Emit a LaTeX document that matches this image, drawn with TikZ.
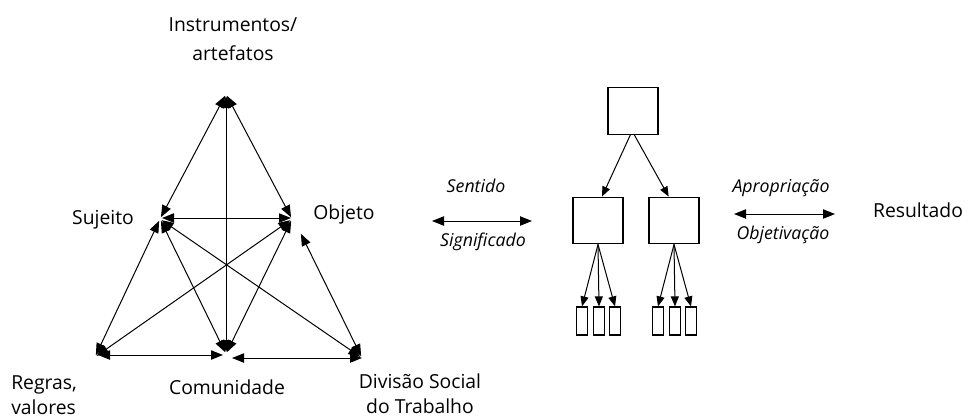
\documentclass[tikz,border=0pt]{standalone}
\usepackage{fontspec}
\setmainfont{Open Sans}
\usetikzlibrary{arrows.meta}
\begin{document}
\begin{tikzpicture}[x=0.75pt,y=-0.75pt,
  lbl/.style={font=\fontsize{14.5}{19}\selectfont, inner sep=0pt, align=center},
  ilbl/.style={font=\fontsize{13.3}{17}\selectfont\itshape, inner sep=0pt},
  link/.style={line width=0.75pt, shorten <=1.5pt, shorten >=1.5pt, {Triangle[length=9pt,width=7pt]}-{Triangle[length=9pt,width=7pt]}},
  onearr/.style={line width=0.75pt, -{Triangle[length=7.5pt,width=6pt]}},
  box/.style={draw, line width=0.9pt, inner sep=0pt, minimum width=37.5pt, minimum height=35pt},
  sbox/.style={draw, line width=0.9pt, inner sep=0pt, minimum width=8pt, minimum height=21pt}]
\useasboundingbox (0,0) rectangle (970,418);
% triangle vertices
\coordinate (I) at (226,94);
\coordinate (S) at (160,219);
\coordinate (O) at (292,219);
\coordinate (O2) at (300,232);
\coordinate (R) at (95,357);
\coordinate (C) at (226,354);
\coordinate (D) at (362,358);
\coordinate (Sa) at (160,218);
\coordinate (Oa) at (293,218);
\coordinate (Ra) at (96,355);
\coordinate (Ca) at (225,355);
\coordinate (Cb) at (230,358);
\coordinate (Db) at (364,358);
% labels
\node[lbl] (instr) at (233,39) {Instrumentos/\\[3pt]artefatos};
\node[lbl] (suj) at (103,220) {Sujeito};
\node[lbl] (obj) at (344,214) {Objeto};
\node[lbl, align=left, anchor=west] (reg) at (11,395) {Regras,\\valores};
\node[lbl] (com) at (227,387) {Comunidade};
\node[lbl] (div) at (420,394) {Divisão Social\\do Trabalho};
% links
\draw[link] (I) -- (S);
\draw[link] (I) -- (O);
\draw[link] (I) -- (C);
\draw[link] (Sa) -- (Oa);
\draw[link] (S) -- (R);
\draw[link] (S) -- (C);
\draw[link] (S) -- (D);
\draw[link] (O) -- (R);
\draw[link] (O) -- (C);
\draw[link] (O2) -- (D);
\draw[link] (Ra) -- (Ca);
\draw[link] (Cb) -- (Db);
% middle
\node[ilbl] (sent) at (476,186) {Sentido};
\node[ilbl] (sig) at (483,242) {Significado};
\coordinate (m1) at (432,221);
\coordinate (m2) at (532,221);
\draw[link, shorten <=0pt, shorten >=0pt] (m1) -- (m2);
% hierarchy
\node[box] (top) at (633,111) {};
\node[box] (ml) at (598,220.5) {};
\node[box] (mr) at (674,220.5) {};
\node[sbox] (a1) at (582,321) {};
\node[sbox] (a2) at (599,321) {};
\node[sbox] (a3) at (615,321) {};
\node[sbox] (b1) at (658,321) {};
\node[sbox] (b2) at (675,321) {};
\node[sbox] (b3) at (691,321) {};
\draw[onearr] ([xshift=-2pt]top.south) -- ([xshift=3pt]ml.north);
\draw[onearr] ([xshift=1pt]top.south) -- ([xshift=-4pt]mr.north);
\draw[onearr] (ml.south) -- (a1.north);
\draw[onearr] (ml.south) -- (a2.north);
\draw[onearr] (ml.south) -- (a3.north);
\draw[onearr] (mr.south) -- (b1.north);
\draw[onearr] (mr.south) -- (b2.north);
\draw[onearr] (mr.south) -- (b3.north);
% right
\node[ilbl] (apr) at (781,188) {Apropriação};
\node[ilbl] (objv) at (783,235) {Objetivação};
\coordinate (r1) at (734,214);
\coordinate (r2) at (835,214);
\draw[link, shorten <=0pt, shorten >=0pt] (r1) -- (r2);
\node[lbl] (res) at (918,210) {Resultado};
\end{tikzpicture}
\end{document}
